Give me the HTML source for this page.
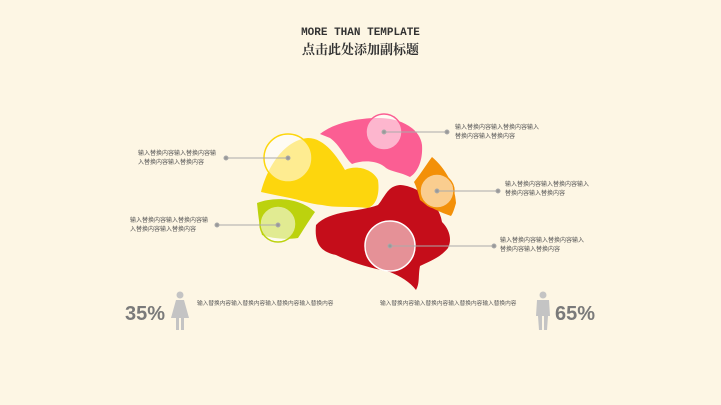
<!DOCTYPE html>
<html><head><meta charset="utf-8"><style>
body{margin:0;width:721px;height:405px;background:#fdf6e4;overflow:hidden;position:relative;font-family:"Liberation Sans","Noto Sans CJK SC",sans-serif}
.t{position:absolute;font-size:6px;line-height:9px;color:#555;white-space:nowrap}
.p{position:absolute;font-size:20px;font-weight:bold;color:#7a7a7a}
</style></head><body>
<div style="position:absolute;left:0;width:721px;top:27px;text-align:center;font-family:'Liberation Mono','Noto Serif CJK SC',monospace;font-weight:bold;font-size:11px;color:#333">MORE THAN TEMPLATE</div>
<div style="position:absolute;left:0;width:721px;top:39px;text-align:center;font-family:'Liberation Serif','Noto Serif CJK SC',serif;font-weight:bold;font-size:13px;color:#333">点击此处添加副标题</div>
<svg width="721" height="405" style="position:absolute;left:0;top:0">
<path d="M320,134 C335,122 360,118 378,118 C400,118 420,128 422,145 C423,160 418,172 410,177 C400,172 392,172 386,168 C378,160 362,160 352,164 C345,158 340,145 330,138 Z" fill="#fb5e93"/>
<path d="M261,192 C268,165 285,140 308,138 C325,138 338,158 345,170 C355,165 372,168 378,180 C380,195 376,205 368,208 C350,206 335,208 322,205 C310,204 300,200 290,198 C280,196 270,194 261,192 Z" fill="#fdd60d"/>
<path d="M257,203 C275,196 300,198 315,212 C308,222 302,232 298,238 C285,240 270,238 262,235 C259,225 258,212 257,203 Z" fill="#bcd20e"/>
<path d="M316,225 C330,210 360,212 378,205 C386,195 388,186 400,185 C420,186 440,205 442,222 C450,230 452,240 448,248 C440,258 428,262 420,266 C418,276 420,283 416,290 C410,282 400,276 390,272 C370,268 350,262 336,255 C322,252 314,245 316,225 Z" fill="#c50d1a"/>
<path d="M414,182 C422,172 428,162 432,157 C445,168 455,185 456,203 C454,210 453,213 451,216 C440,212 430,208 420,200 C418,192 416,186 414,182 Z" fill="#f39008"/>
<g fill="#fff" fill-opacity="0.55">
<circle cx="288" cy="158" r="24" stroke="#fdd60d" stroke-width="1.5" stroke-opacity="1"/>
<circle cx="384" cy="132" r="18" stroke="#fb5e93" stroke-width="1.5" stroke-opacity="1"/>
<circle cx="437" cy="191" r="17" stroke="#f39008" stroke-width="1.5" stroke-opacity="1"/>
<circle cx="278" cy="224" r="18" stroke="#bcd20e" stroke-width="1.5" stroke-opacity="1"/>
<circle cx="390" cy="246" r="25" stroke="#fff" stroke-width="1.5" stroke-opacity="1"/>
</g>
<g stroke="#aaa" stroke-width="1" fill="#999">
<line x1="226" y1="158" x2="288" y2="158"/><circle cx="226" cy="158" r="2"/><circle cx="288" cy="158" r="2"/>
<line x1="384" y1="132" x2="447" y2="132"/><circle cx="384" cy="132" r="2"/><circle cx="447" cy="132" r="2"/>
<line x1="437" y1="191" x2="498" y2="191"/><circle cx="437" cy="191" r="2"/><circle cx="498" cy="191" r="2"/>
<line x1="217" y1="225" x2="278" y2="225"/><circle cx="217" cy="225" r="2"/><circle cx="278" cy="225" r="2"/>
<line x1="390" y1="246" x2="494" y2="246"/><circle cx="390" cy="246" r="2"/><circle cx="494" cy="246" r="2"/>
</g>
<g fill="#c4c4c4">
<circle cx="180" cy="295" r="3.5"/>
<path d="M176,300 L184,300 L189,318 L184,318 L184,330 L181,330 L181,318 L179,318 L179,330 L176,330 L176,318 L171,318 Z"/>
<circle cx="543" cy="295" r="3.5"/>
<path d="M537,300 L549,300 L550,316 L548,316 L547,330 L544,330 L544,316 L542,316 L542,330 L539,330 L538,316 L536,316 Z"/>
</g>
</svg>
<div class="t" style="left:138px;top:150px">输入替换内容输入替换内容输<br>入替换内容输入替换内容</div>
<div class="t" style="left:455px;top:124px">输入替换内容输入替换内容输入<br>替换内容输入替换内容</div>
<div class="t" style="left:505px;top:181px">输入替换内容输入替换内容输入<br>替换内容输入替换内容</div>
<div class="t" style="left:130px;top:217px">输入替换内容输入替换内容输<br>入替换内容输入替换内容</div>
<div class="t" style="left:500px;top:237px">输入替换内容输入替换内容输入<br>替换内容输入替换内容</div>
<div class="t" style="left:197px;top:300px;font-size:5.7px">输入替换内容输入替换内容输入替换内容输入替换内容</div>
<div class="t" style="left:380px;top:300px;font-size:5.7px">输入替换内容输入替换内容输入替换内容输入替换内容</div>
<div class="p" style="left:125px;top:303px">35%</div>
<div class="p" style="left:555px;top:303px">65%</div>
</body></html>
